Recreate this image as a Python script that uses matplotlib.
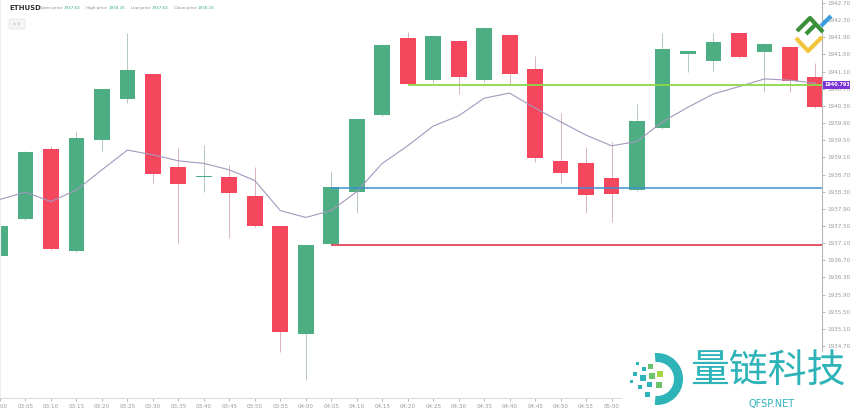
import numpy as np
import matplotlib
matplotlib.use("Agg")
import matplotlib.pyplot as plt
from matplotlib.patches import Rectangle, FancyBboxPatch, Wedge
import matplotlib.transforms as mtransforms

# 5-minute ETHUSD candles
times = ["03:00", "03:05", "03:10", "03:15", "03:20", "03:25", "03:30", "03:35",
         "03:40", "03:45", "03:50", "03:55", "04:00", "04:05", "04:10", "04:15",
         "04:20", "04:25", "04:30", "04:35", "04:40", "04:45", "04:50", "04:55",
         "05:00", "05:05", "05:10", "05:15", "05:20", "05:25", "05:30", "05:35",
         "05:40"]
opens = [1936.80, 1937.67, 1939.30, 1936.92, 1939.50, 1940.46, 1941.04, 1938.88,
         1938.64, 1938.64, 1938.20, 1937.49, 1934.98, 1937.08, 1938.30, 1940.09,
         1941.88, 1940.90, 1941.81, 1940.90, 1941.96, 1941.15, 1939.01, 1938.96,
         1938.62, 1938.34, 1939.79, 1941.50, 1941.34, 1941.99, 1941.56, 1941.68,
         1940.98]
highs = [1937.52, 1939.25, 1939.37, 1939.72, 1940.70, 1942.01, 1941.06, 1939.31,
         1939.39, 1938.92, 1938.88, 1937.50, 1937.06, 1938.79, 1940.00, 1941.75,
         1942.02, 1941.95, 1941.83, 1942.13, 1941.98, 1941.46, 1940.13, 1939.35,
         1939.47, 1940.35, 1942.01, 1941.59, 1941.99, 1942.01, 1941.76, 1941.70,
         1941.29]
lows = [1936.78, 1937.65, 1936.95, 1936.90, 1939.26, 1940.36, 1938.50, 1937.10,
        1938.30, 1937.21, 1937.47, 1934.57, 1933.91, 1937.06, 1937.80, 1940.07,
        1940.79, 1940.83, 1940.58, 1940.86, 1940.79, 1939.00, 1938.50, 1937.80,
        1937.60, 1938.32, 1939.77, 1941.10, 1941.12, 1941.41, 1940.63, 1940.63,
        1940.25]
closes = [1937.50, 1939.23, 1936.97, 1939.55, 1940.69, 1941.13, 1938.71, 1938.48,
          1938.66, 1938.27, 1937.49, 1935.04, 1937.05, 1938.40, 1939.99, 1941.72,
          1940.81, 1941.93, 1940.98, 1942.11, 1941.04, 1939.08, 1938.74, 1938.23,
          1938.25, 1939.95, 1941.63, 1941.57, 1941.80, 1941.43, 1941.74, 1940.87,
          1940.27]
ma = [1938.12, 1938.29, 1938.07, 1938.34, 1938.81, 1939.27, 1939.16, 1939.02,
      1938.96, 1938.81, 1938.56, 1937.86, 1937.70, 1937.86, 1938.30, 1938.96,
      1939.37, 1939.83, 1940.07, 1940.48, 1940.60, 1940.25, 1939.93, 1939.62,
      1939.37, 1939.47, 1939.93, 1940.27, 1940.58, 1940.75, 1940.93, 1940.90,
      1940.83]

# drawn levels: (price, start candle)
resistance = (1940.79, "04:20")
support_hi = (1938.39, "04:05")
support_lo = (1937.05, "04:05")
last_price = "1940.793"
yticks = np.round(np.arange(1934.70, 1942.71, 0.40), 2)
n_labeled = 25  # time labels after 05:00 sit under the watermark

GREEN = "#4dae84"
RED = "#f4475d"

W, H = 850, 411
fig = plt.figure(figsize=(W / 100, H / 100), dpi=100)
fig.patch.set_facecolor("white")

ax = fig.add_axes([0, 13 / H, 822 / W, 1 - 13 / H])
x = np.arange(len(times))
o = np.array(opens)
c = np.array(closes)
up = c >= o
body_lo = np.minimum(o, c)
body_h = np.maximum(np.abs(c - o), 0.03)

ax.vlines(x[up], np.array(lows)[up], np.array(highs)[up], color="#b5c9c0", lw=0.7, zorder=1)
ax.vlines(x[~up], np.array(lows)[~up], np.array(highs)[~up], color="#d9b3b9", lw=0.7, zorder=1)
ax.bar(x[up], body_h[up], bottom=body_lo[up], width=0.62, color=GREEN, zorder=2)
ax.bar(x[~up], body_h[~up], bottom=body_lo[~up], width=0.62, color=RED, zorder=2)

ax.plot(x, ma, color="#a597bd", lw=0.8, zorder=3)

xr = 32.26
ax.hlines(resistance[0], times.index(resistance[1]), xr, color="#8fd94a", lw=1.3, zorder=4)
ax.hlines(support_hi[0], times.index(support_hi[1]), xr, color="#3f8fcf", lw=1.1, zorder=4)
ax.hlines(support_lo[0], times.index(support_lo[1]), xr, color="#d8263d", lw=1.1, zorder=4)

ax.set_xlim(0.22, xr)
ax.set_ylim(1933.49, 1942.77)
ax.yaxis.tick_right()
ax.set_yticks(yticks)
ax.set_yticklabels([f"{v:.2f}" for v in yticks])
ax.set_xticks(x[:n_labeled])
ax.set_xticklabels(times[:n_labeled])
ax.tick_params(axis="y", labelsize=4.1, colors="#9a9a9a", length=2, width=0.5, pad=1.5)
ax.tick_params(axis="x", labelsize=4.1, colors="#9a9a9a", length=2, width=0.5, pad=2)
ax.spines["top"].set_visible(False)
ax.spines["right"].set_color("#b8b8b8")
ax.spines["right"].set_linewidth(0.8)
ax.spines["bottom"].set_color("#dddddd")
ax.spines["left"].set_color("#eeeeee")

# last price tag
tr = mtransforms.blended_transform_factory(ax.transAxes, ax.transData)
ax.text(1.003, resistance[0], last_price, transform=tr, fontsize=3.5, color="white",
        fontweight="bold", va="center", ha="left", clip_on=False, zorder=10,
        bbox=dict(boxstyle="square,pad=0.35", fc="#7b33d6", ec="none"))

# overlay in pixel coordinates for header and logos
ov = fig.add_axes([0, 0, 1, 1], zorder=5)
ov.set_xlim(0, W)
ov.set_ylim(H, 0)
ov.axis("off")
ov.patch.set_alpha(0)

ov.text(9, 8, "ETHUSD", fontsize=5, fontweight="bold", color="#333333", va="center")
hdr = [("Open price", "1937.64", 40), ("High price", "1938.16", 86),
       ("Low price", "1937.64", 131), ("Close price", "1938.16", 174)]
for lab, val, px in hdr:
    t = ov.text(px, 8, lab + " ", fontsize=3.0, color="#8a8a8a", va="center")
    ov.annotate(val, xy=(1, 0.5), xycoords=t, fontsize=3.0, color="#3cb08a",
                va="center", ha="left")
ov.add_patch(FancyBboxPatch((9, 19), 16, 10, boxstyle="round,pad=0,rounding_size=2",
                            fc="#f4f4f4", ec="#e0e0e0", lw=0.5))
ov.text(17, 24, "\u2227 \u2228", fontsize=3, color="#999999", ha="center", va="center")

# top-right logo
ov.plot([797, 810, 823], [31, 18, 32], color="#3a8f3a", lw=3, solid_capstyle="butt")
ov.plot([806, 815], [34, 25], color="#3a8f3a", lw=3, solid_capstyle="butt")
ov.plot([796, 808, 822], [38, 51, 37], color="#f2c53d", lw=3, solid_capstyle="butt")
ov.plot([821, 831], [26, 16], color="#3c9ee0", lw=3, solid_capstyle="butt")

# watermark
ov.add_patch(Rectangle((622, 352), 228, 59, fc="white", ec="none"))
ov.add_patch(Wedge((657, 379), 26, -95, 95, width=9, fc="#2db3b8", ec="none"))
sq = [(636, 362, 3, "#2db3b8"), (642, 367, 4, "#2db3b8"), (633, 372, 4, "#2db3b8"),
      (640, 375, 6, "#2db3b8"), (648, 364, 5, "#6cc36c"), (649, 373, 6, "#6cc36c"),
      (657, 371, 6, "#a8d44a"), (647, 382, 5, "#2db3b8"), (656, 382, 6, "#6cc36c"),
      (638, 385, 4, "#2db3b8"), (645, 392, 5, "#2db3b8"), (630, 380, 3, "#2db3b8")]
for sx, sy, s, col in sq:
    ov.add_patch(Rectangle((sx, sy), s, s, fc=col, ec="none"))
ov.text(768, 371, "量链科技", fontsize=28, color="#2db3b8", ha="center", va="center",
        family=["Noto Sans CJK SC", "DejaVu Sans"])
ov.text(772, 404, "QFSP.NET", fontsize=7, color="#2db3b8", ha="center", va="center")

fig.savefig("out.png", dpi=100, facecolor="white")
